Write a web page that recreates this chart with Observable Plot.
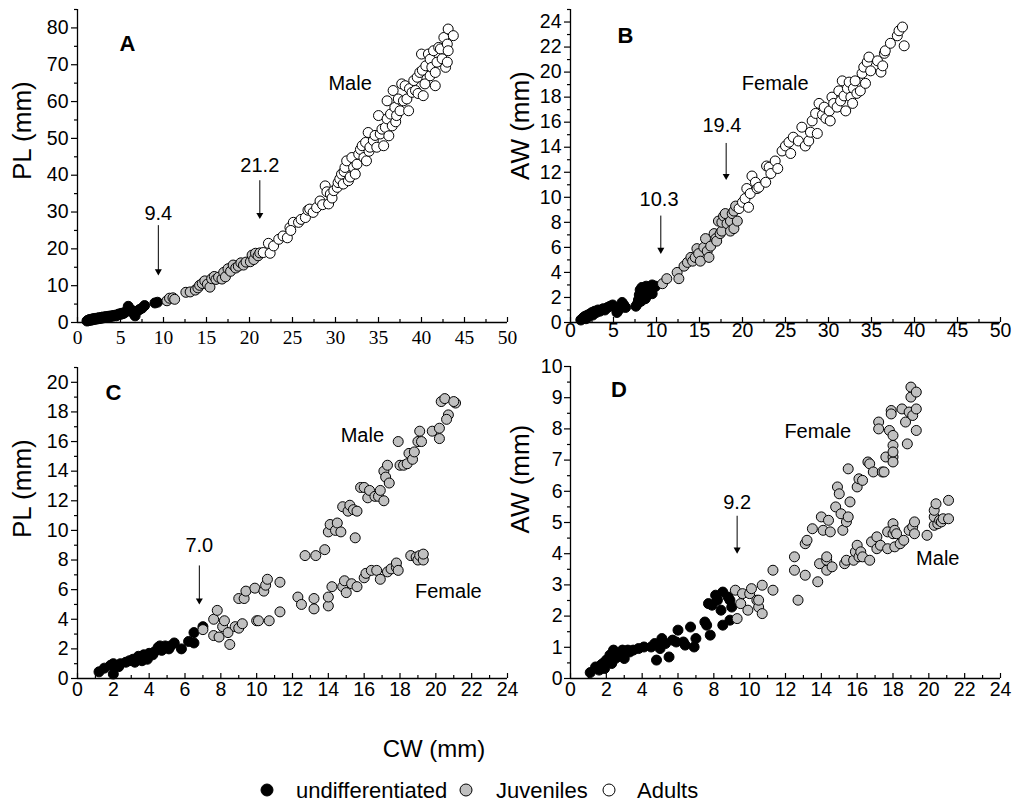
<!DOCTYPE html>
<html><head><meta charset="utf-8">
<script src="https://cdn.jsdelivr.net/npm/d3@7"></script>
<script src="https://cdn.jsdelivr.net/npm/@observablehq/plot@0.6"></script>
<style>
body{margin:0;background:#fff;font-family:"Liberation Sans",Arial,sans-serif;}
#root{position:relative;width:1013px;height:805px;overflow:hidden;background:#fff;}
#root svg{position:absolute;overflow:visible;}
.lab{position:absolute;color:#000;white-space:nowrap;line-height:1;}
.sw{position:absolute;width:11px;height:11px;border:1px solid #000;border-radius:50%;transform:translate(-50%,-50%);}
</style></head><body><div id="root"></div>
<script>
// ---------- DATA (CW mm, value mm) ----------
const A_undiff = [[1.1,0.4],[1.2,0.6],[1.3,0.5],[1.4,0.8],[1.5,0.6],[1.6,0.9],[1.7,0.7],[1.8,1.0],[1.9,0.8],[2.0,1.1],[2.1,0.9],[2.2,1.0],[2.3,1.2],[2.4,1.0],[2.5,1.3],[2.6,1.1],[2.7,1.2],[2.8,1.4],[2.9,1.2],[3.0,1.5],[3.2,1.4],[3.3,1.6],[3.5,1.5],[3.6,1.7],[3.8,1.6],[3.9,1.8],[4.1,1.7],[4.2,1.9],[4.4,2.0],[4.5,1.8],[4.7,2.1],[4.8,2.3],[5.0,2.2],[5.1,2.5],[5.3,2.4],[5.5,2.7],[5.6,2.9],[5.9,4.4],[6.1,3.6],[6.4,3.2],[6.6,2.2],[6.7,1.8],[6.9,3.0],[7.2,3.5],[7.5,3.9],[7.8,4.6],[9.0,5.3],[9.3,5.5]];
const A_juv = [[10.4,5.9],[10.7,6.6],[11.1,6.7],[11.3,6.3],[12.6,8.2],[13.1,8.3],[13.7,8.8],[14.0,9.4],[14.2,10.1],[14.5,10.6],[14.8,11.3],[15.1,10.4],[15.4,9.6],[15.6,11.9],[15.9,12.5],[16.1,11.7],[16.4,12.3],[16.8,11.8],[17.0,13.6],[17.2,12.4],[17.5,14.6],[17.8,13.9],[18.1,15.6],[18.4,14.8],[18.7,15.3],[19.0,16.2],[19.3,15.6],[19.6,16.4],[20.1,16.5],[20.3,18.3],[20.5,17.1],[20.7,18.8],[21.0,18.1],[21.2,18.9]];
const A_adult = [[21.6,19],[22.2,21.5],[22.4,18.8],[22.8,20.8],[23.4,22.6],[23.9,23.5],[24.4,23.0],[24.7,25.8],[25.1,27.2],[25.7,27.2],[24.8,25.0],[26.0,28.0],[26.5,28.5],[26.8,30.5],[27.0,30.8],[27.4,29.9],[27.8,31.2],[28.2,33],[28.5,32.0],[28.8,37.1],[29.0,35.5],[29.2,32.2],[29.4,34.9],[29.6,33.8],[29.8,35.8],[30.2,36.7],[30.3,38],[30.5,39.0],[30.7,40.3],[30.9,37.6],[31.0,41.0],[31.1,42.1],[31.3,43.9],[31.5,38.5],[31.7,39.5],[31.9,44.8],[32.1,42.1],[32.3,40.3],[32.5,43],[32.7,45.7],[32.9,47.0],[33.1,48],[33.3,44.8],[33.5,48.9],[33.6,43.9],[33.8,51.6],[33.9,46.5],[34,47.6],[34.4,49.4],[34.6,50.8],[34.8,47.6],[35,56.2],[35.2,51.2],[35.4,52.5],[35.6,48],[35.8,53],[36,55.3],[36.2,50.7],[36,60.2],[36.4,56.6],[36.6,53.4],[36.7,63],[36.9,58.4],[37.0,54.5],[37.1,56.2],[37.3,60.7],[37.5,57.5],[37.7,64.8],[37.9,60.2],[38.1,64.3],[38.3,60.7],[38.5,57.5],[38.6,63.5],[38.9,62.5],[39.1,65.7],[39.3,63],[39.5,66.6],[39.6,62.2],[39.8,67.9],[40,72.9],[40.1,68.5],[40.2,61.6],[40.4,64.8],[40.5,69.7],[40.8,72.9],[41,67],[41.0,71.5],[41.2,69.3],[41.4,73.8],[41.6,67.9],[41.8,70.7],[41.6,64.3],[42,74.7],[42.2,74.3],[42.4,71.6],[42.6,77.4],[42.8,69.3],[43,70.7],[43.1,79.7],[43,75.6],[43.7,77.9],[43.1,73.8]];

const B_undiff = [[1.2,0.2],[1.4,0.3],[1.5,0.4],[1.7,0.5],[1.8,0.3],[2.0,0.6],[2.1,0.5],[2.3,0.7],[2.5,0.8],[2.6,0.6],[2.8,0.9],[3.0,0.8],[3.2,1.0],[3.4,0.9],[3.6,1.0],[3.8,1.1],[4.0,1.0],[4.3,1.2],[4.6,1.3],[4.9,1.4],[5.2,1.2],[5.4,0.8],[5.6,1.0],[6.0,1.6],[6.2,1.4],[6.4,1.2],[7.6,1.3],[7.8,1.5],[7.9,1.8],[8.0,2.2],[8.1,2.6],[8.2,1.7],[8.3,2.8],[8.4,2.4],[8.5,2.0],[8.6,2.7],[8.7,1.9],[8.8,2.9],[8.9,2.5],[9.0,2.2],[9.2,2.8],[9.3,2.6],[9.5,3.0],[9.5,2.3],[9.7,2.8],[9.9,2.9]];
const B_juv = [[10.7,3.1],[11.2,3.5],[12.4,4.0],[12.6,3.5],[13.2,4.5],[13.6,4.8],[14.0,5.2],[14.2,4.9],[14.5,5.2],[14.7,5.9],[14.9,5.5],[15.1,4.9],[15.5,6.0],[15.7,6.7],[15.9,5.7],[16.1,5.2],[16.3,6.1],[16.7,7.1],[16.9,6.7],[17.0,6.5],[17.2,8.1],[17.4,7.1],[17.6,7.3],[17.6,8.0],[17.8,8.5],[18.0,8.7],[18.2,7.9],[18.6,8.1],[18.6,7.3],[18.8,8.7],[19.0,8.9],[19.0,7.5],[19.2,9.3],[19.4,8.1]];
const B_adult = [[19.6,9.1],[20.0,9.6],[20.3,9.9],[20.5,10.7],[20.7,9.2],[20.9,10.3],[21.1,11.7],[21.5,11.2],[21.7,10.7],[21.9,10.8],[22.7,11.2],[22.8,12.5],[23.1,12.4],[23.3,11.9],[23.8,12.9],[24.1,12.3],[24.6,13.7],[25.0,14.1],[25.4,14.4],[25.6,13.5],[25.9,14.8],[26.5,14.5],[26.9,15.6],[27.3,14.1],[27.7,14.5],[27.9,15.2],[28.1,16.1],[28.5,16.7],[28.7,15.1],[28.9,17.5],[29.3,16.6],[29.5,17.2],[29.7,16.3],[30.1,16.9],[30.2,16.1],[30.4,18.0],[30.6,17.5],[31.0,17.2],[31.2,18.5],[31.4,17.7],[31.6,19.3],[31.8,18.1],[32.0,16.9],[32.2,18.7],[32.4,19.2],[32.6,18.0],[32.8,17.5],[32.9,18.7],[33.1,19.3],[33.3,18.3],[33.7,18.5],[33.9,19.9],[34.1,20.4],[34.3,19.1],[34.5,20.8],[34.7,21.2],[34.9,20.1],[35.7,20.9],[36.1,20.0],[36.3,20.5],[36.5,21.5],[36.6,21.7],[37.2,22.3],[38.0,22.9],[38.2,23.3],[38.6,23.6],[38.8,22.1]];

const C_undiff = [[1.2,0.45],[1.5,0.7],[1.85,0.9],[2.0,1.0],[2.0,0.3],[2.1,0.8],[2.3,0.8],[2.4,1.0],[2.7,1.1],[2.9,1.2],[3.1,1.3],[3.2,1.1],[3.4,1.5],[3.6,1.2],[3.7,1.6],[3.9,1.3],[4.0,1.7],[4.2,1.6],[4.3,1.8],[4.5,2.1],[4.6,2.2],[4.7,1.9],[4.9,2.2],[5.1,2.0],[5.2,2.2],[5.4,2.4],[5.8,2.0],[6.2,2.5],[6.5,2.4],[6.5,3.1],[7.0,3.5]];
const C_juv = [[7.0,3.3],[7.6,4.0],[7.8,4.6],[7.6,2.9],[7.9,2.8],[8.1,3.5],[8.2,3.9],[8.4,3.1],[8.5,2.3],[8.8,3.5],[9.0,3.4],[9.2,3.7],[9.0,5.4],[9.3,5.4],[9.4,5.9],[9.9,6.1],[10.0,3.9],[10.1,3.9],[10.4,5.9],[10.5,6.3],[10.6,6.7],[10.7,3.9],[11.3,6.5],[11.3,4.5],[12.3,5.5],[12.5,5.0],[12.7,8.3],[13.2,4.7],[13.2,5.4],[13.3,8.3],[13.8,8.7],[14.0,9.9],[14.0,4.9],[14.0,5.5],[14.1,10.4],[14.2,6.2],[14.4,10.0],[14.5,10.5],[14.7,9.9],[14.8,11.6],[14.8,6.2],[14.9,6.6],[15.0,5.8],[15.1,11.3],[15.2,11.7],[15.3,6.4],[15.4,11.4],[15.5,9.5],[15.6,11.3],[15.6,6.2],[15.8,12.9],[16.0,6.8],[16.0,12.9],[16.1,7.1],[16.2,12.2],[16.3,12.7],[16.4,7.3],[16.6,12.3],[16.7,7.3],[16.8,12.3],[16.9,12.7],[17.1,12.0],[16.9,6.7],[17.1,14.0],[17.3,14.4],[17.2,13.6],[17.4,13.2],[17.3,7.2],[17.5,7.4],[17.8,7.5],[17.8,7.8],[17.9,7.3],[17.9,16.0],[18.0,14.4],[18.2,14.4],[18.4,14.5],[18.5,15.2],[18.7,14.8],[18.8,15.3],[19.0,16.0],[19.1,16.7],[19.2,16.0],[18.6,8.3],[18.9,8.2],[19.0,8.0],[19.1,8.3],[19.3,8.0],[19.3,8.4],[19.8,16.7],[20.2,16.9],[20.2,16.2],[20.3,18.7],[20.5,18.9],[20.7,17.8],[20.6,17.5],[21.1,18.6],[21.0,18.7]];

const D_undiff = [[1.1,0.19],[1.4,0.37],[1.6,0.27],[1.7,0.43],[1.8,0.48],[1.9,0.32],[1.95,0.48],[2.0,0.59],[2.1,0.53],[2.2,0.75],[2.3,0.48],[2.4,0.91],[2.5,0.64],[2.6,0.69],[2.7,0.80],[2.9,0.91],[3.0,0.64],[3.2,0.91],[3.3,0.85],[3.5,0.91],[3.8,0.96],[4.1,1.01],[4.5,1.01],[4.7,1.12],[4.8,0.59],[5.0,0.96],[5.1,1.28],[5.3,1.12],[5.5,0.69],[5.7,1.23],[5.9,1.17],[6.0,1.55],[6.3,1.17],[6.4,1.07],[6.7,1.65],[6.9,1.01],[7.0,1.28],[7.5,1.81],[7.6,1.71],[7.8,1.39],[7.7,2.40],[7.9,2.35],[8.1,2.67],[8.2,2.51],[8.4,2.19],[8.5,2.77],[8.5,1.71],[8.8,2.61],[8.9,2.51],[9.0,2.29],[8.9,1.87]];
const D_juv = [[9.2,2.83],[9.3,1.92],[9.5,2.4],[9.6,2.72],[9.9,2.19],[10.0,2.72],[10.1,2.88],[10.4,2.51],[10.5,2.29],[10.5,2.51],[10.7,2.08],[10.7,2.99],[11.3,3.47],[11.3,2.83],[12.5,3.9],[12.5,3.47],[12.7,2.51],[13.1,3.31],[13.1,4.32],[13.2,4.43],[13.5,4.80],[13.8,3.10],[13.9,3.68],[14.0,5.18],[14.1,4.75],[14.3,3.47],[14.3,3.79],[14.3,3.90],[14.4,5.07],[14.5,4.70],[14.6,3.58],[14.8,5.50],[14.9,6.14],[15.0,5.92],[15.1,5.28],[15.2,4.75],[15.3,3.68],[15.4,3.79],[15.4,5.02],[15.5,5.18],[15.5,6.72],[15.6,5.66],[15.8,3.79],[15.9,4.06],[16.0,6.14],[16.1,6.40],[16.3,6.35],[16.0,4.27],[16.1,3.90],[16.2,4.06],[16.3,3.90],[16.6,6.94],[16.7,3.79],[16.7,6.88],[16.8,4.38],[16.9,6.62],[17.1,4.16],[17.1,4.54],[17.2,8.22],[17.2,8.0],[17.3,4.27],[17.4,6.62],[17.5,6.62],[17.6,7.10],[17.7,4.70],[17.7,4.16],[17.8,7.95],[17.9,8.59],[17.9,8.48],[18.0,7.47],[18.0,7.79],[18.0,7.10],[18.0,6.94],[18.0,7.26],[18.0,4.64],[18.0,4.96],[18.1,4.22],[18.1,4.75],[18.2,4.64],[18.4,4.32],[18.5,8.64],[18.6,4.43],[18.7,8.22],[18.8,7.52],[18.9,8.54],[18.9,4.75],[19.0,9.02],[19.0,9.34],[19.1,8.43],[19.1,4.86],[19.2,5.02],[19.3,9.18],[19.3,8.64],[19.3,7.95],[19.2,4.64],[19.9,4.59],[20.3,4.91],[20.3,5.18],[20.3,5.39],[20.4,5.60],[20.5,4.96],[20.6,5.07],[20.7,5.02],[20.8,5.12],[21.1,5.71],[21.1,5.12]];

// tick values
const ticks50Major = [0,5,10,15,20,25,30,35,40,45,50];
const ticks50Minor = [2.5,7.5,12.5,17.5,22.5,27.5,32.5,37.5,42.5,47.5];
const ticks24Major = [0,2,4,6,8,10,12,14,16,18,20,22,24];
const ticks24Minor = [1,3,5,7,9,11,13,15,17,19,21,23];
const yA_major = [0,10,20,30,40,50,60,70,80];
const yA_minor = [5,15,25,35,45,55,65,75,85];
const yB_major = [0,2,4,6,8,10,12,14,16,18,20,22,24];
const yB_minor = [1,3,5,7,9,11,13,15,17,19,21,23,25];
const yC_major = [0,2,4,6,8,10,12,14,16,18,20];
const yC_minor = [1,3,5,7,9,11,13,15,17,19,21];
const yD_major = [0,1,2,3,4,5,6,7,8,9,10];
const yD_minor = [0.5,1.5,2.5,3.5,4.5,5.5,6.5,7.5,8.5,9.5];

// annotations
const A_letter = [{x:5.8,y:75.7,text:"A"}];
const A_notes = [{x:31.7,y:64.9,text:"Male"},{x:9.4,y:29.5,text:"9.4"},{x:21.2,y:42.6,text:"21.2"}];
const A_arrows = [{x:9.4,y1:26.3,y2:13.2},{x:21.2,y1:38.5,y2:28.5}];
const B_letter = [{x:6.4,y:22.9,text:"B"}];
const B_notes = [{x:23.8,y:19.1,text:"Female"},{x:10.3,y:9.8,text:"10.3"},{x:17.6,y:15.7,text:"19.4"}];
const B_arrows = [{x:10.5,y1:8.5,y2:5.6},{x:18.1,y1:14.3,y2:11.5}];
const C_letter = [{x:2.0,y:19.25,text:"C"}];
const C_notes = [{x:15.9,y:16.4,text:"Male"},{x:20.7,y:5.9,text:"Female"},{x:6.8,y:9.0,text:"7.0"}];
const C_arrows = [{x:6.8,y1:7.6,y2:5.1}];
const D_letter = [{x:2.7,y:9.24,text:"D"}];
const D_notes = [{x:13.8,y:7.9,text:"Female"},{x:20.5,y:3.83,text:"Male"},{x:9.3,y:5.65,text:"9.2"}];
const D_arrows = [{x:9.3,y1:5.2,y2:4.05}];

const stageNames = ["undifferentiated","Juveniles","Adults"];
const stageFill = {undifferentiated:"#000000", Juveniles:"#c0c0c0", Adults:"#ffffff"};

// ---------- DRAWING ----------
const SANS = '"Liberation Sans", Arial, sans-serif';
const SERIF = '"Liberation Serif", "Times New Roman", serif';
const root = document.getElementById("root");

function rows(pairs, stage){ return pairs.map(([cw,v]) => ({cw, v, stage})); }

function panel(o){
  const innerH = o.height - o.mt - o.mb;
  const data = o.series.flatMap(([p,s]) => rows(p,s));
  const svg = Plot.plot({
    width:o.width, height:o.height,
    marginTop:o.mt, marginBottom:o.mb, marginLeft:o.ml, marginRight:o.mr,
    x:{domain:o.xDomain, axis:null},
    y:{domain:o.yDomain, axis:null},
    color:{type:"identity"},
    style:{overflow:"visible", fontFamily:SANS, color:"#000", background:"transparent"},
    marks:[
      Plot.ruleY([o.yDomain[0]], {stroke:"#000", strokeWidth:1.3}),
      Plot.ruleX([o.xDomain[0]], {stroke:"#000", strokeWidth:1.3}),
      Plot.ruleX(o.xMajor, {x:d=>d, insetTop:innerH-5, stroke:"#000", strokeWidth:1.2}),
      Plot.ruleX(o.xMinor, {x:d=>d, insetTop:innerH-3, stroke:"#000", strokeWidth:1.2}),
      Plot.axisX(o.xMajor, {tickSize:0, tickPadding:o.xPad, fontSize:o.xFontSize, fontFamily:o.xFont, label:null}),
      Plot.axisY(o.yMajor, {tickSize:6, tickPadding:o.yPad, fontSize:19.5, label:null, strokeWidth:1.2}),
      Plot.axisY(o.yMinor, {tickSize:3, tickFormat:()=>"", label:null, strokeWidth:1.2}),
      Plot.dot(data, {x:"cw", y:"v", r:5, fill:d=>stageFill[d.stage], stroke:"#000", strokeWidth:1}),
      Plot.ruleX(o.arrows, {x:"x", y1:"y1", y2:"y2", stroke:"#000", strokeWidth:1}),
      Plot.dot(o.arrows, {x:"x", y:"y2", symbol:"triangle", rotate:180, r:2.6, fill:"#000", stroke:null, dy:-2.5}),
      Plot.text(o.notes, {x:"x", y:"y", text:"text", fontSize:20, fill:"#000"}),
      Plot.text(o.letter, {x:"x", y:"y", text:"text", fontSize:22, fontWeight:"bold", fill:"#000"}),
      Plot.text([o.yLabel], {text:d=>d, frameAnchor:"left", rotate:-90, dx:o.yLabelDx, dy:o.yLabelDy, fontSize:26, fill:"#000"})
    ]
  });
  svg.style.left = o.left + "px";
  svg.style.top = o.top + "px";
  root.appendChild(svg);
}

panel({left:0, top:0, width:510, height:355, mt:9, mb:33, ml:77, mr:3,
  xDomain:[0,50], yDomain:[0,85], xMajor:ticks50Major, xMinor:ticks50Minor,
  yMajor:yA_major, yMinor:yA_minor, xFont:SERIF, xFontSize:19.5, xPad:8, yPad:3,
  series:[[A_undiff,"undifferentiated"],[A_juv,"Juveniles"],[A_adult,"Adults"]],
  notes:A_notes, letter:A_letter, arrows:A_arrows, yLabel:"PL (mm)", yLabelDx:-55, yLabelDy:14});

panel({left:500, top:0, width:510, height:355, mt:9, mb:33, ml:70, mr:10,
  xDomain:[0,50], yDomain:[0,25], xMajor:ticks50Major, xMinor:ticks50Minor,
  yMajor:yB_major, yMinor:yB_minor, xFont:SANS, xFontSize:19.5, xPad:1, yPad:3,
  series:[[B_undiff,"undifferentiated"],[B_juv,"Juveniles"],[B_adult,"Adults"]],
  notes:B_notes, letter:B_letter, arrows:B_arrows, yLabel:"AW (mm)", yLabelDx:-50, yLabelDy:14});

panel({left:0, top:350, width:510, height:358, mt:17, mb:30, ml:77, mr:3,
  xDomain:[0,24], yDomain:[0,21], xMajor:ticks24Major, xMinor:ticks24Minor,
  yMajor:yC_major, yMinor:yC_minor, xFont:SANS, xFontSize:19.5, xPad:4, yPad:3,
  series:[[C_undiff,"undifferentiated"],[C_juv,"Juveniles"]],
  notes:C_notes, letter:C_letter, arrows:C_arrows, yLabel:"PL (mm)", yLabelDx:-55, yLabelDy:15});

panel({left:500, top:350, width:510, height:358, mt:16, mb:30, ml:70, mr:10,
  xDomain:[0,24], yDomain:[0,10], xMajor:ticks24Major, xMinor:ticks24Minor,
  yMajor:yD_major, yMinor:yD_minor, xFont:SANS, xFontSize:19.5, xPad:4, yPad:2,
  series:[[D_undiff,"undifferentiated"],[D_juv,"Juveniles"]],
  notes:D_notes, letter:D_letter, arrows:D_arrows, yLabel:"AW (mm)", yLabelDx:-50, yLabelDy:11});

// x-axis title and legend
function addLabel(text, left, top, size, center){
  const d = document.createElement("div");
  d.className = "lab"; d.textContent = text;
  d.style.left = left + "px"; d.style.top = top + "px"; d.style.fontSize = size + "px";
  d.style.transform = center ? "translate(-50%,-50%)" : "translate(0,-50%)";
  root.appendChild(d);
}
addLabel("CW (mm)", 434, 749, 24, true);
const legendPos = [{cx:267, tx:296},{cx:466, tx:496},{cx:609, tx:637}];
stageNames.forEach((s,i) => {
  const c = document.createElement("div");
  c.className = "sw"; c.style.left = legendPos[i].cx + "px"; c.style.top = "790px";
  c.style.background = stageFill[s];
  root.appendChild(c);
  addLabel(s, legendPos[i].tx, 791, 22, false);
});
</script></body></html>
